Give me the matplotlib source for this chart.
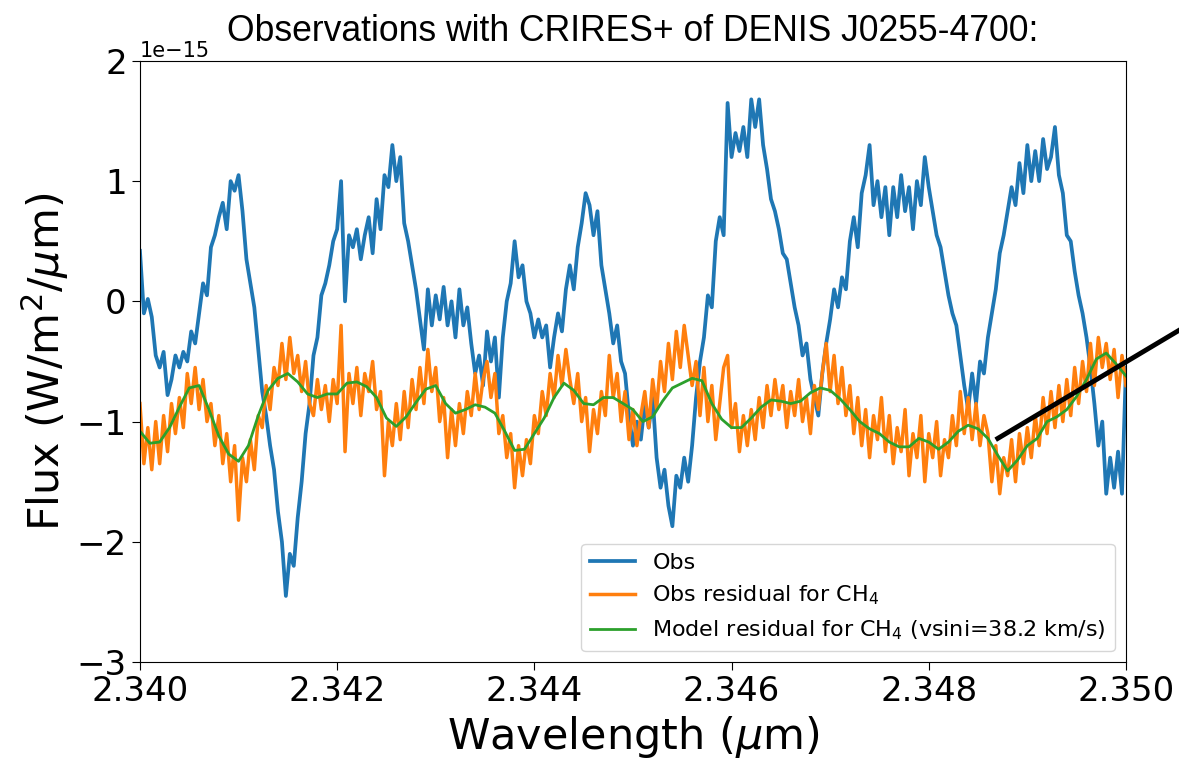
import numpy as np
import matplotlib
matplotlib.use("Agg")
import matplotlib.pyplot as plt

# wavelength grids (micron)
wl = np.linspace(2.340, 2.350, 251)
wl_model = np.linspace(2.340, 2.350, 101)

# observed flux, units of 1e-15 W/m2/um
obs = [0.42, -0.1, 0.02, -0.13, -0.45, -0.55, -0.42, -0.78, -0.65, -0.45,
       -0.55, -0.42, -0.5, -0.25, -0.35, -0.1, 0.15, 0.05, 0.45, 0.55,
       0.7, 0.82, 0.6, 1.0, 0.92, 1.05, 0.75, 0.35, 0.15, -0.05,
       -0.4, -0.75, -0.95, -1.2, -1.4, -1.75, -2.0, -2.45, -2.1, -2.2,
       -1.8, -1.5, -1.1, -0.85, -0.45, -0.3, 0.05, 0.15, 0.3, 0.5,
       0.6, 1.0, 0.0, 0.55, 0.45, 0.6, 0.35, 0.55, 0.7, 0.4,
       0.85, 0.6, 1.05, 0.95, 1.3, 1.0, 1.2, 0.65, 0.5, 0.3,
       0.1, -0.15, -0.4, 0.1, -0.2, 0.05, -0.15, 0.12, -0.2, 0.0,
       -0.3, 0.1, -0.2, -0.05, -0.35, -0.6, -0.45, -0.7, -0.25, -0.5,
       -0.3, -0.8, -0.3, 0.0, 0.15, 0.5, 0.2, 0.3, 0.0, -0.1,
       -0.3, -0.15, -0.3, -0.2, -0.55, -0.3, -0.1, -0.25, 0.1, 0.3,
       0.1, 0.45, 0.65, 0.9, 0.8, 0.55, 0.75, 0.3, 0.1, -0.1,
       -0.35, -0.2, -0.5, -0.6, -0.95, -1.2, -1.0, -1.15, -0.85, -1.05,
       -0.8, -1.3, -1.55, -1.4, -1.7, -1.87, -1.45, -1.55, -1.3, -1.5,
       -1.2, -0.8, -0.5, -0.3, 0.05, -0.05, 0.5, 0.7, 0.55, 1.65,
       1.2, 1.4, 1.25, 1.45, 1.2, 1.68, 1.45, 1.68, 1.3, 1.1,
       0.85, 0.75, 0.6, 0.4, 0.35, 0.15, -0.05, -0.2, -0.45, -0.35,
       -0.65, -0.8, -0.95, -0.6, -0.35, -0.15, 0.1, -0.05, 0.2, 0.1,
       0.5, 0.7, 0.45, 0.9, 1.05, 1.3, 0.8, 1.0, 0.7, 0.95,
       0.55, 0.95, 0.7, 1.05, 0.75, 0.95, 0.6, 1.0, 0.8, 1.2,
       0.95, 0.75, 0.55, 0.45, 0.25, 0.05, -0.1, -0.2, -0.45, -0.7,
       -0.9, -0.6, -0.85, -0.5, -0.6, -0.3, -0.1, 0.1, 0.4, 0.55,
       0.75, 0.95, 0.8, 1.15, 0.9, 1.3, 1.0, 1.25, 1.0, 1.35,
       1.1, 1.2, 1.45, 1.05, 0.9, 0.55, 0.5, 0.25, 0.05, -0.1,
       -0.3, -0.55, -0.85, -1.2, -1.0, -1.6, -1.3, -1.55, -1.25, -1.6,
       -0.55]

# observed residual after CH4 removal
obs_res = [-0.85, -1.35, -1.05, -1.4, -1.0, -1.35, -0.95, -1.25, -0.85, -1.1,
           -0.8, -1.05, -0.6, -0.85, -0.55, -0.9, -0.65, -1.0, -0.85, -1.2,
           -0.95, -1.35, -1.1, -1.5, -1.2, -1.82, -1.3, -1.5, -1.15, -1.4,
           -0.95, -1.05, -0.7, -0.9, -0.55, -0.7, -0.35, -0.65, -0.3, -0.6,
           -0.45, -0.75, -0.5, -0.85, -0.95, -0.65, -0.9, -0.7, -1.0, -0.65,
           -0.85, -0.2, -1.25, -0.6, -0.85, -0.55, -0.95, -0.6, -0.75, -0.5,
           -0.9, -0.75, -1.45, -1.0, -1.2, -0.85, -1.15, -0.75, -1.05, -0.65,
           -0.9, -0.55, -0.85, -0.4, -0.75, -0.55, -1.0, -0.8, -1.3, -0.9,
           -1.2, -0.85, -1.1, -0.75, -0.95, -0.6, -0.9, -0.65, -0.5, -0.8,
           -0.6, -1.1, -0.95, -1.3, -1.1, -1.55, -1.2, -1.45, -1.15, -1.35,
           -0.95, -1.1, -0.75, -0.95, -0.6, -0.8, -0.45, -0.7, -0.4, -0.65,
           -0.85, -0.6, -1.0, -0.8, -1.25, -0.9, -1.1, -0.75, -0.95, -0.45,
           -0.8, -0.6, -1.0, -0.75, -1.15, -0.9, -1.2, -0.95, -0.75, -1.05,
           -0.65, -0.9, -0.5, -0.75, -0.35, -0.65, -0.25, -0.55, -0.2, -0.45,
           -0.7, -0.5, -0.95, -0.55, -1.0, -0.7, -1.15, -0.85, -0.55, -0.45,
           -1.05, -0.85, -1.25, -0.95, -1.2, -0.9, -1.15, -0.8, -1.05, -0.7,
           -0.95, -0.65, -0.9, -0.7, -1.05, -0.75, -0.95, -0.65, -1.0, -0.8,
           -1.1, -0.7, -0.9, -0.6, -0.35, -0.75, -0.45, -0.85, -0.55, -0.95,
           -0.7, -1.1, -0.8, -1.2, -0.9, -1.3, -0.95, -1.15, -0.8, -1.25,
           -0.95, -1.35, -1.05, -1.25, -0.9, -1.45, -1.1, -1.3, -0.95, -1.5,
           -1.1, -1.3, -1.0, -1.45, -1.15, -1.3, -0.95, -1.2, -0.75, -1.1,
           -0.8, -1.15, -0.85, -1.2, -0.95, -1.1, -1.5, -1.2, -1.6, -1.3,
           -1.45, -1.15, -1.5, -1.1, -1.35, -1.05, -1.3, -0.95, -1.2, -0.8,
           -1.1, -0.75, -1.05, -0.7, -1.0, -0.65, -0.95, -0.55, -0.85, -0.5,
           -0.75, -0.35, -0.7, -0.3, -0.55, -0.35, -0.65, -0.4, -0.8, -0.45,
           -0.7]

# model residual, vsini = 38.2 km/s
model_res = [-1.08, -1.18, -1.17, -1.05, -0.88, -0.72, -0.7, -0.9, -1.12, -1.27,
             -1.33, -1.2, -0.95, -0.74, -0.64, -0.6, -0.67, -0.77, -0.8, -0.77,
             -0.77, -0.68, -0.67, -0.71, -0.8, -0.97, -1.04, -0.96, -0.84, -0.73,
             -0.7, -0.85, -0.93, -0.9, -0.86, -0.88, -0.93, -1.08, -1.24, -1.23,
             -1.1, -0.97, -0.8, -0.68, -0.74, -0.85, -0.86, -0.8, -0.8, -0.85,
             -0.9, -1.0, -0.96, -0.83, -0.72, -0.68, -0.64, -0.66, -0.85, -0.98,
             -1.05, -1.05, -0.97, -0.88, -0.82, -0.83, -0.85, -0.83, -0.76, -0.72,
             -0.74, -0.81, -0.9, -1.0, -1.06, -1.1, -1.17, -1.21, -1.21, -1.14,
             -1.17, -1.23, -1.17, -1.08, -1.03, -1.06, -1.14, -1.28, -1.41, -1.32,
             -1.2, -1.14, -1.0, -0.96, -0.9, -0.79, -0.65, -0.48, -0.43, -0.52,
             -0.62]

scale = 1e-15
obs = np.array(obs) * scale
obs_res = np.array(obs_res) * scale
model_res = np.array(model_res) * scale

fig = plt.figure(figsize=(11.79, 7.61), dpi=100)
ax = fig.add_axes([0.1187, 0.130, 0.8363, 0.790])

ax.plot(wl, obs, color="#1f77b4", lw=2.7, label="Obs")
ax.plot(wl, obs_res, color="#ff7f0e", lw=2.5, label="Obs residual for CH$_4$")
ax.plot(wl_model, model_res, color="#2ca02c", lw=2.0,
        label="Model residual for CH$_4$ (vsini=38.2 km/s)")

# pointer line running off the right side
ax.plot([2.34870, 2.35054], [-1.14e-15, -0.24e-15], color="black", lw=3.5,
        clip_on=False)

ax.set_xlim(2.340, 2.350)
ax.set_ylim(-3e-15, 2e-15)
ax.set_xticks(np.arange(2.340, 2.3501, 0.002))
ax.set_xticklabels(["2.340", "2.342", "2.344", "2.346", "2.348", "2.350"])
ax.set_yticks(np.arange(-3, 3) * 1e-15)
ax.tick_params(labelsize=24.5, length=6)
ax.yaxis.get_offset_text().set_fontsize(15)

ax.set_xlabel("Wavelength ($\\mu$m)", fontsize=31)
ax.set_ylabel("Flux (W/m$^2$/$\\mu$m)", fontsize=31)
ax.set_title("Observations with CRIRES+ of DENIS J0255-4700:",
             fontsize=25.6, family="Liberation Sans", pad=14)
ax.legend(loc="lower right", fontsize=16)

fig.savefig("out.png", dpi=100)
